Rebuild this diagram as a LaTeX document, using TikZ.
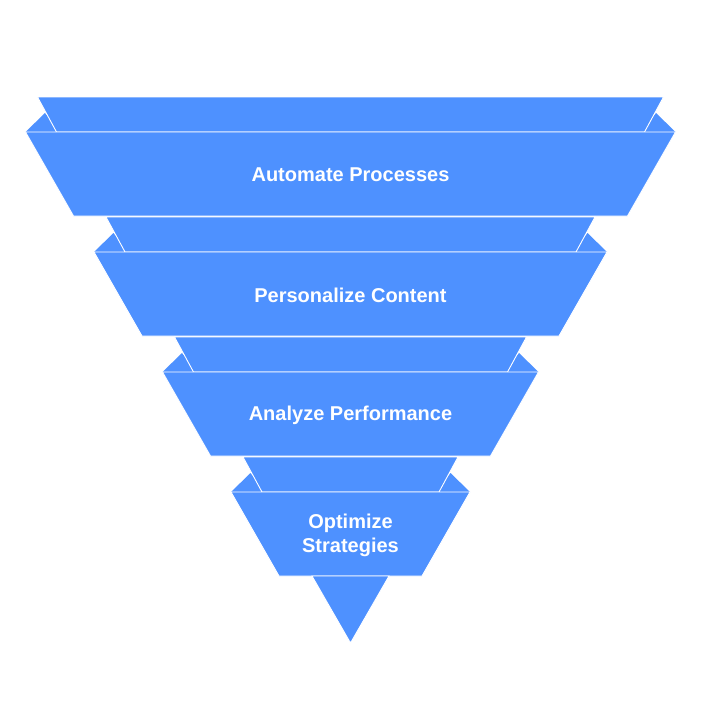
\documentclass[tikz,border=0pt]{standalone}
\usepackage{fontspec}
\setmainfont{Liberation Sans}
\usetikzlibrary{positioning,calc}
\definecolor{funnelblue}{RGB}{78,145,255}

\begin{document}
\begin{tikzpicture}[x=1pt,y=-1pt,
	part/.style={fill=funnelblue,draw=white,line width=0.9pt,line join=miter},
	label text/.style={text=white,font=\fontsize{20}{24}\selectfont\bfseries,align=center,inner sep=0pt}]
\useasboundingbox (0,0) rectangle (702,709);

\coordinate (c) at (350.5,0);

% back band and little side wings of each level, then the front face
\foreach \i in {0,...,3}{
	\pgfmathsetmacro{\yt}{97+120*\i}
	\pgfmathsetmacro{\ym}{132+120*\i}
	\pgfmathsetmacro{\yw}{113+120*\i}
	\pgfmathsetmacro{\yb}{216+120*\i}
	\pgfmathsetmacro{\bt}{313-68.5*\i}
	\pgfmathsetmacro{\bb}{294-68.5*\i}
	\pgfmathsetmacro{\ft}{325-68.5*\i}
	\pgfmathsetmacro{\fb}{277-68.5*\i}
	\pgfmathsetmacro{\wa}{305.5-68.5*\i}
	% wings
	\fill[funnelblue] ($(c)+(-\ft,\ym)$) -- ($(c)+(-\wa,\yw)$) -- ($(c)+(-\bb+4,\ym)$) -- cycle;
	\fill[funnelblue] ($(c)+(\ft,\ym)$) -- ($(c)+(\wa,\yw)$) -- ($(c)+(\bb-4,\ym)$) -- cycle;
	% band
	\draw[part] ($(c)+(-\bt,\yt)$) -- ($(c)+(\bt,\yt)$) -- ($(c)+(\bb,\ym)$) -- ($(c)+(-\bb,\ym)$) -- cycle;
	% front
	\draw[part] ($(c)+(-\ft,\ym)$) -- ($(c)+(\ft,\ym)$) -- ($(c)+(\fb,\yb)$) -- ($(c)+(-\fb,\yb)$) -- cycle;
	\coordinate (mid\i) at ($(c)+(0,{(\ym+\yb)/2+1})$);
}

% tip
\draw[part] ($(c)+(-38.5,576)$) -- ($(c)+(38.5,576)$) -- ($(c)+(0,643)$) -- cycle;

\foreach \i/\txt in {0/Automate Processes,1/Personalize Content,2/Analyze Performance,3/{Optimize\\Strategies}}
	\node[label text] (stage\i) at (mid\i) {\txt};
\end{tikzpicture}
\end{document}
